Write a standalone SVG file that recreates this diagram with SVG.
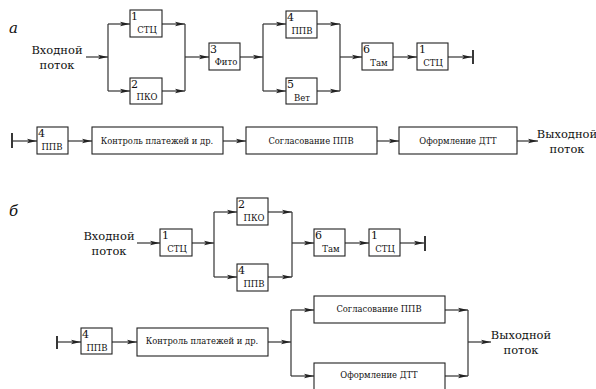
<svg xmlns="http://www.w3.org/2000/svg" width="596" height="389" viewBox="0 0 596 389">
<style>
.bx{fill:#fff;stroke:#222;stroke-width:1.1}
.ln{fill:none;stroke:#333;stroke-width:1.2}
.ar{fill:none;stroke:#333;stroke-width:1.2;marker-end:url(#ah)}
.bar{stroke:#222;stroke-width:1.8}
text{font-family:"DejaVu Serif","Liberation Serif",serif;fill:#111}
.num{font-size:11px}
.lb{font-size:8.5px;text-anchor:middle}
.wl{font-size:8.4px;text-anchor:middle}
.io{font-size:11.5px;text-anchor:middle}
.it{font-size:15px;font-style:italic}
</style>
<defs>
<marker id="ah" markerUnits="userSpaceOnUse" markerWidth="10" markerHeight="6" refX="10" refY="3" orient="auto">
<path d="M0,0.8 L10,3 L0,5.2 L2,3 z" fill="#222"/>
</marker>
</defs>
<text class="it" x="9" y="33">а</text>
<text class="it" x="9" y="216">б</text>
<g id="connectors">
<line class="ar" x1="86" y1="57" x2="108" y2="57"/>
<line class="ln" x1="108" y1="24" x2="108" y2="91"/>
<line class="ar" x1="108" y1="24" x2="130" y2="24"/>
<line class="ar" x1="108" y1="91" x2="130" y2="91"/>
<line class="ar" x1="162" y1="24" x2="185" y2="24"/>
<line class="ar" x1="162" y1="91" x2="185" y2="91"/>
<line class="ln" x1="185" y1="24" x2="185" y2="91"/>
<line class="ar" x1="185" y1="57" x2="209" y2="57"/>
<line class="ar" x1="240" y1="57" x2="263" y2="57"/>
<line class="ln" x1="263" y1="24" x2="263" y2="91"/>
<line class="ar" x1="263" y1="24" x2="286" y2="24"/>
<line class="ar" x1="263" y1="91" x2="286" y2="91"/>
<line class="ar" x1="317" y1="24" x2="340" y2="24"/>
<line class="ar" x1="317" y1="91" x2="340" y2="91"/>
<line class="ln" x1="340" y1="24" x2="340" y2="91"/>
<line class="ar" x1="340" y1="57" x2="362" y2="57"/>
<line class="ar" x1="393" y1="57" x2="417" y2="57"/>
<line class="ar" x1="448" y1="57" x2="472" y2="57"/>
<line class="bar" x1="473" y1="50" x2="473" y2="64"/>
<line class="bar" x1="12" y1="133" x2="12" y2="148"/>
<line class="ar" x1="12" y1="141" x2="37" y2="141"/>
<line class="ar" x1="68" y1="141" x2="92" y2="141"/>
<line class="ar" x1="223" y1="141" x2="246" y2="141"/>
<line class="ar" x1="377" y1="141" x2="399" y2="141"/>
<line class="ar" x1="517" y1="141" x2="538" y2="141"/>
<line class="ar" x1="137" y1="243" x2="160" y2="243"/>
<line class="ar" x1="192" y1="243" x2="214" y2="243"/>
<line class="ln" x1="214" y1="212" x2="214" y2="277"/>
<line class="ar" x1="214" y1="212" x2="237" y2="212"/>
<line class="ar" x1="214" y1="277" x2="237" y2="277"/>
<line class="ar" x1="268" y1="212" x2="292" y2="212"/>
<line class="ar" x1="268" y1="277" x2="292" y2="277"/>
<line class="ln" x1="292" y1="212" x2="292" y2="277"/>
<line class="ar" x1="292" y1="243" x2="314" y2="243"/>
<line class="ar" x1="345" y1="243" x2="369" y2="243"/>
<line class="ar" x1="400" y1="243" x2="424" y2="243"/>
<line class="bar" x1="425" y1="236" x2="425" y2="251"/>
<line class="bar" x1="57" y1="336" x2="57" y2="349"/>
<line class="ar" x1="57" y1="342" x2="81" y2="342"/>
<line class="ar" x1="112" y1="342" x2="137" y2="342"/>
<line class="ar" x1="268" y1="342" x2="291" y2="342"/>
<line class="ln" x1="291" y1="310" x2="291" y2="376"/>
<line class="ar" x1="291" y1="310" x2="314" y2="310"/>
<line class="ar" x1="291" y1="376" x2="314" y2="376"/>
<line class="ar" x1="445" y1="310" x2="468" y2="310"/>
<line class="ar" x1="445" y1="376" x2="468" y2="376"/>
<line class="ln" x1="468" y1="310" x2="468" y2="376"/>
<line class="ar" x1="468" y1="342" x2="491" y2="342"/>
</g>
<g id="a-in"><text class="io" x="57" y="54">Входной</text><text class="io" x="57" y="69">поток</text></g>
<g id="a1"><rect class="bx" x="130" y="10" width="32" height="27"/><text class="num" x="131" y="20">1</text><text class="lb" x="147" y="33">СТЦ</text></g>
<g id="a2"><rect class="bx" x="130" y="78" width="32" height="26"/><text class="num" x="131" y="88">2</text><text class="lb" x="147" y="100">ПКО</text></g>
<g id="a3"><rect class="bx" x="209" y="43" width="31" height="27"/><text class="num" x="210" y="53">3</text><text class="lb" x="226" y="65">Фито</text></g>
<g id="a4"><rect class="bx" x="286" y="11" width="31" height="27"/><text class="num" x="287" y="21">4</text><text class="lb" x="302" y="34">ППВ</text></g>
<g id="a5"><rect class="bx" x="286" y="78" width="31" height="26"/><text class="num" x="287" y="88">5</text><text class="lb" x="302" y="101">Вет</text></g>
<g id="a6"><rect class="bx" x="362" y="43" width="31" height="27"/><text class="num" x="363" y="53">6</text><text class="lb" x="379" y="66">Там</text></g>
<g id="a1b"><rect class="bx" x="417" y="43" width="31" height="27"/><text class="num" x="419" y="53">1</text><text class="lb" x="433" y="66">СТЦ</text></g>
<g id="a4b"><rect class="bx" x="37" y="127" width="31" height="27"/><text class="num" x="38" y="137">4</text><text class="lb" x="52" y="150">ППВ</text></g>
<g id="a-kontrol"><rect class="bx" x="92" y="127" width="131" height="27"/><text class="wl" x="157" y="144">Контроль платежей и др.</text></g>
<g id="a-soglas"><rect class="bx" x="246" y="127" width="131" height="27"/><text class="wl" x="311" y="144">Согласование ППВ</text></g>
<g id="a-oform"><rect class="bx" x="399" y="127" width="118" height="27"/><text class="wl" x="458" y="144">Оформление ДТТ</text></g>
<g id="a-out"><text class="io" x="567" y="138">Выходной</text><text class="io" x="567" y="153">поток</text></g>
<g id="b-in"><text class="io" x="109" y="240">Входной</text><text class="io" x="109" y="255">поток</text></g>
<g id="b1"><rect class="bx" x="160" y="229" width="32" height="27"/><text class="num" x="162" y="239">1</text><text class="lb" x="177" y="252">СТЦ</text></g>
<g id="b2"><rect class="bx" x="237" y="198" width="31" height="27"/><text class="num" x="238" y="208">2</text><text class="lb" x="254" y="221">ПКО</text></g>
<g id="b4"><rect class="bx" x="237" y="264" width="31" height="27"/><text class="num" x="238" y="274">4</text><text class="lb" x="254" y="287">ППВ</text></g>
<g id="b6"><rect class="bx" x="314" y="229" width="31" height="27"/><text class="num" x="315" y="239">6</text><text class="lb" x="331" y="252">Там</text></g>
<g id="b1b"><rect class="bx" x="369" y="229" width="31" height="27"/><text class="num" x="371" y="239">1</text><text class="lb" x="385" y="252">СТЦ</text></g>
<g id="b4b"><rect class="bx" x="81" y="328" width="31" height="26"/><text class="num" x="82" y="338">4</text><text class="lb" x="97" y="351">ППВ</text></g>
<g id="b-kontrol"><rect class="bx" x="137" y="328" width="131" height="28"/><text class="wl" x="202" y="344">Контроль платежей и др.</text></g>
<g id="b-soglas"><rect class="bx" x="314" y="296" width="131" height="27"/><text class="wl" x="379" y="312">Согласование ППВ</text></g>
<g id="b-oform"><rect class="bx" x="314" y="363" width="131" height="27"/><text class="wl" x="379" y="378">Оформление ДТТ</text></g>
<g id="b-out"><text class="io" x="521" y="339">Выходной</text><text class="io" x="521" y="354">поток</text></g>
</svg>
